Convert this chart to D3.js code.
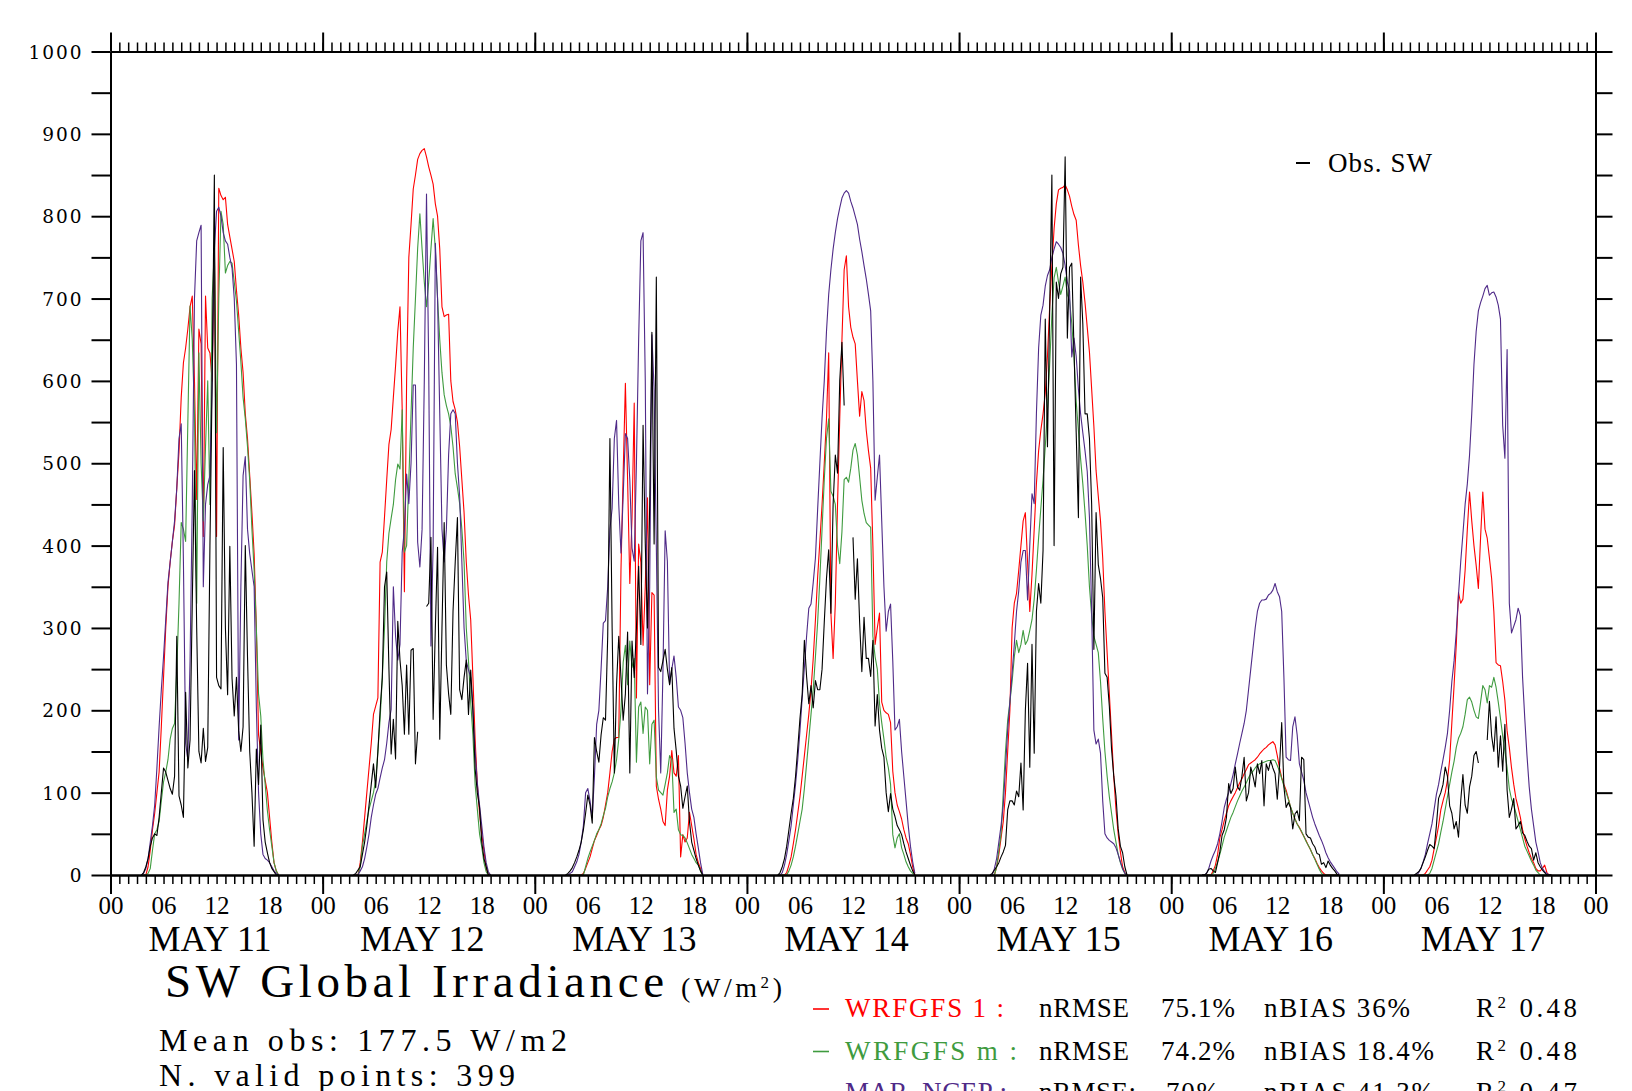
<!DOCTYPE html>
<html><head><meta charset="utf-8">
<script src="https://cdn.jsdelivr.net/npm/d3@7"></script>
<style>
html,body{margin:0;padding:0;background:#fff;overflow:hidden;}
svg{display:block;background:#fff;}
</style></head><body>
<svg id="chart" width="1632" height="1091"></svg>
<script>
// ---------------- DATA ----------------
const dayLabels = ["MAY 11","MAY 12","MAY 13","MAY 14","MAY 15","MAY 16","MAY 17"];
const hourTickLabels = ["00","06","12","18"];
const yTickValues = d3.range(0, 1001, 50);
const startHour = 3.5;   // first sample of each day (hours)
const stepHours = 0.25;  // sampling step (hours)

// Observed SW global irradiance (W/m2), one array per day, 03:30 .. 19:00 every 15 min
const obsSW = [
 [0,3, 10,20,35,45, 50,48,70,100, 130,125,115,105, 98,120,290,96, 85,70,222,130, 164,330,491,300, 150,136,178,138, 155,400,600,850, 240,230,226,519, 300,219,399,239, 193,240,175,150, 180,400,265,150, 100,35,153,110, 182,67,40,27, 15,8,4,0, 0],
 [0,2, 6,10,25,40, 60,85,110,135, 106,150,200,240, 350,368,250,147, 189,141,308,261, 230,171,255,171, 273,275,135,174, null,null,null,326, 330,410,189,300, 398,165,300,428, 255,220,195,320, 380,434,225,213, 240,261,195,249, 200,129,100,82, 40,20,10,0, 0],
 [0,2, 5,9,15,22, 30,40,55,75, 97,85,63,167, 150,137,170,191, 188,290,530,300, 124,231,290,240, 188,220,295,124, 284,240,300,375, 280,546,402,300, 450,659,402,726, 252,247,260,274, 250,231,252,178, 151,120,108,81, 95,108,65,40, 30,20,12,5, 0],
 [0,3, 10,20,35,55, 75,93,120,154, 190,219,285,241, 208,230,203,236, 225,225,250,307, 360,395,318,450, 510,488,600,647, 570,null,null,null, 410,335,384,307, 247,313,263,263, 241,285,181,219, 176,154,143,100, 77,99,80,71, 60,55,49,38, 28,20,12,5, 0],
 [0,2, 6,10,15,22, 28,36,79,90, 90,85,102,95, 136,79,200,257, 131,280,148,320, 354,330,394,675, 520,686,850,400, 720,700,730,738, 872,652,738,743, 640,537,434,726, 669,560,560,530, 450,274,440,377, 360,337,245,240, 205,153,120,96, 56,35,27,10, 0],
 [0,0, 2,7,8,5, 3,15,28,48, 55,70,111,99, 105,131,107,103, 120,143,90,100, 131,120,107,135, 123,139,84,135, 127,139,130,123, 92,131,185,107, 82,88,82,56, 74,78,66,143, 140,50,46,45, 38,34,26,25, 13,15,9,17, 12,8,5,1, 0],
 [0,2, 4,8,15,22, 30,37,35,32, 60,93,100,110, 131,120,84,75, 56,65,46,90, 122,85,75,107, 120,145,150,136, null,null,null,164, 211,169,150,192, 131,169,126,183, 103,70,80,93, 56,60,65,51, 48,41,35,32, 18,27,15,10, 6,3,0,0, 0]
];

// WRFGFS 1
const wrfgfs1 = [
 [0,0, 0,10,30,55, 75,100,125,180, 240,300,350,380, 405,425,470,514, 580,622,640,663, 690,703,600,456, 663,645,411,703, 640,634,600,766, 411,834,825,820, 823,790,775,760, 745,710,680,640, 610,560,530,485, 440,390,300,170, 150,130,115,100, 70,40,15,5, 0],
 [0,0, 0,15,40,70, 100,130,160,195, 205,215,380,392, 435,480,523,541, 580,618,660,690, 565,344,600,750, 790,833,850,869, 876,880,882,872, 860,850,839,815, 800,760,690,678, 680,681,600,575, 565,550,520,480, 440,380,340,310, 240,165,110,75, 50,30,8,0, 0],
 [0,0, 0,0,0,0, 0,0,2,8, 15,22,32,42, 48,55,60,70, 85,100,124,150, 165,167,167,370, 488,597,480,354, 434,573,215,402, 380,279,350,458, 231,343,340,108, 92,80,65,60, 103,120,151,124, 120,145,22,49, 40,45,76,60, 44,25,15,8, 0],
 [0,0, 0,0,3,12, 22,38,55,75, 95,120,145,170, 195,225,263,310, 362,405,450,500, 554,634,318,263, 330,450,554,650, 735,752,690,665, 653,645,600,557, 587,576,540,515, 494,400,280,300, 318,210,200,197, 195,185,126,100, 85,77,68,55, 45,38,25,10, 0],
 [0,0, 0,10,25,45, 65,100,150,200, 300,330,342,370, 400,430,440,380, 320,365,420,475, 515,540,560,585, 630,690,740,785, 815,832,834,835, 838,832,824,812, 802,795,765,740, 720,695,665,635, 590,545,491,460, 430,385,320,270, 220,170,120,80, 50,28,10,3, 0],
 [0,0, 0,0,0,5, 12,25,45,55, 66,75,84,90, 95,100,106,112, 117,123,128,134, 136,138,140,143, 147,150,153,155, 158,160,162,158, 145,130,118,110, 103,93,82,75, 68,62,58,52, 47,42,36,31, 25,20,14,9, 5,2,0,0, 0,0,0,0, 0],
 [0,0, 0,0,0,2, 6,10,18,32, 45,60,79,90, 100,115,140,185, 230,280,343,330, 335,370,420,465, 430,400,376,348, 410,465,420,409, 385,360,320,258, 255,254,235,212, 175,155,130,110, 93,82,70,55, 44,35,27,20, 15,8,5,5, 8,12,3,0, 0]
];

// WRFGFS m
const wrfgfsM = [
 [0,0, 0,2,8,30, 50,55,65,90, 113,125,140,165, 178,184,250,330, 428,420,405,550, 691,650,560,330, 634,500,430,520, 600,450,700,760, 537,700,806,790, 731,740,745,743, 720,697,660,623, 580,554,520,479, 420,370,300,220, 193,140,110,78, 55,35,15,5, 0],
 [0,0, 0,10,35,50, 65,80,90,100, 115,150,189,240, 300,380,415,433, 450,480,499,493, 565,392,400,480, 560,640,700,761, 803,760,720,690, 720,760,797,760, 700,650,610,583, 570,560,545,520, 487,470,451,420, 380,300,260,210, 170,110,80,50, 34,15,4,0, 0],
 [0,0, 0,0,0,0, 0,0,0,10, 20,28,35,42, 50,55,62,72, 81,95,105,113, 124,140,165,200, 258,279,231,284, 252,263,137,204, 210,172,204,200, 135,183,188,119, 103,100,97,110, 124,145,140,76, 80,55,49,48, 45,39,32,25, 20,15,12,5, 0],
 [0,0, 0,0,0,5, 12,22,35,50, 65,80,105,135, 165,195,225,265, 307,360,420,480, 530,554,466,460, 450,400,378,417, 480,483,477,494, 516,524,510,483, 455,439,428,425, 422,290,265,250, 208,185,165,143, 130,110,49,33, 45,50,33,25, 16,10,5,2, 0],
 [0,0, 0,10,30,50, 100,150,188,210, 235,265,285,270, 280,297,280,285, 297,310,335,370, 410,445,480,520, 565,620,680,725, 738,720,705,715, 726,705,698,670, 630,575,540,505, 475,440,400,350, 315,290,280,270, 235,190,150,120, 95,75,55,40, 25,15,7,2, 0],
 [0,0, 0,0,0,2, 8,16,25,35, 46,54,62,70, 76,83,90,96, 102,107,112,118, 123,126,130,133, 135,136,137,138, 139,139,140,139, 133,126,117,108, 100,92,83,75, 68,62,57,53, 47,41,36,31, 25,19,13,7, 2,0,0,0, 0,0,0,0, 0],
 [0,0, 0,0,0,0, 0,2,8,18, 28,38,52,65, 80,95,110,125, 138,155,166,172, 180,195,213,216, 210,200,192,190, 210,230,225,209, 230,228,240,228, 210,190,169,150, 130,105,92,85, 75,65,55,45, 35,29,23,17, 12,6,3,0, 0,0,0,0, 0]
];

// MAR_NCEP
const marNcep = [
 [0,2, 8,20,40,60, 85,130,180,225, 265,310,355,380, 405,430,470,530, 548,380,160,140, 260,450,700,770, 780,789,350,450, 474,485,600,760, 806,811,800,780, 770,766,750,737, 700,620,164,350, 485,508,420,390, 370,350,204,100, 50,25,20,18, 15,10,5,2, 0],
 [0,0, 0,5,10,20, 34,50,70,85, 98,105,118,130, 140,160,185,201, 350,290,261,280, 392,420,487,451, 500,595,595,404, 374,420,600,827, 618,278,400,767, 700,560,420,380, 420,510,560,565, 560,500,460,380, 300,260,249,240, 200,150,112,85, 60,34,15,4, 0],
 [0,0, 2,4,10,16, 25,40,60,100, 105,90,70,120, 183,200,250,306, 309,350,420,445, 530,552,450,391, 460,536,530,480, 397,381,500,650, 770,780,600,220, 350,656,589,400, 200,124,247,418, 381,231,250,266, 240,204,200,191, 160,124,100,80, 70,50,33,15, 1],
 [0,0, 3,12,25,42, 60,85,110,140, 175,215,252,290, 324,329,355,385, 444,500,555,600, 660,705,735,760, 780,797,810,822, 828,831,828,818, 810,800,790,772, 757,740,724,705, 685,600,455,483, 510,430,350,296, 320,329,260,176, 180,189,150,120, 90,60,35,16, 2],
 [0,0, 8,20,40,60, 85,130,176,210, 245,280,320,345, 380,394,394,334, 400,463,451,560, 640,680,692,715, 728,735,750,760, 769,766,762,755, 740,720,709,629, 652,630,590,560, 537,515,490,434, 320,176,159,165, 148,90,50,45, 42,40,38,33, 25,16,8,2, 0],
 [0,0, 2,8,17,24, 30,38,50,65, 82,92,100,111, 122,135,147,160, 172,184,200,225, 250,275,300,320, 330,334,334,335, 340,342,346,354, 344,338,320,240, 143,140,139,180, 192,170,135,125, 115,100,90,80, 70,62,55,48, 42,35,27,21, 16,12,8,4, 1],
 [0,0, 3,8,16,25, 38,50,62,80, 98,110,126,140, 155,172,200,235, 260,295,340,380, 414,450,475,510, 560,620,660,685, 695,703,712,716, 704,707,708,702, 692,675,546,506, 638,330,294,302, 310,324,315,240, 190,145,107,80, 60,40,28,15, 8,4,2,0, 0]
];

const seriesColors = {obs:"#000000", wrf1:"#ff0000", wrfm:"#3f9b3f", mar:"#4f2a88"};
const modelNames = ["WRFGFS 1 :", "WRFGFS m :", "MAR_NCEP :"];
const nrmseLabels = ["nRMSE", "nRMSE", "nRMSE:"];
const nrmseValues = ["75.1%", "74.2%", "70%"];
const nbiasLabels = ["nBIAS 36%", "nBIAS 18.4%", "nBIAS 41.3%"];
const r2Values = ["0.48", "0.48", "0.47"];
const meanObs = "177.5";
const validPoints = "399";

// ---------------- CHART ----------------
const plot = {left:110.5, right:1595.5, top:51.5, bottom:875};
const x = d3.scaleLinear().domain([0, 168]).range([plot.left, plot.right]);
const y = d3.scaleLinear().domain([0, 1000]).range([plot.bottom, plot.top]);
const svg = d3.select("#chart");
const SERIF = "Liberation Serif, Times New Roman, serif";

// data lines
const line = d3.line().defined(p => p.v !== null).x(p => x(p.t)).y(p => y(p.v));
const drawOrder = [
  {vals: wrfgfs1, color: seriesColors.wrf1},
  {vals: wrfgfsM, color: seriesColors.wrfm},
  {vals: marNcep, color: seriesColors.mar},
  {vals: obsSW,   color: seriesColors.obs}
];
const gLines = svg.append("g");
drawOrder.forEach(s => {
  s.vals.forEach((dayVals, d) => {
    const pts = dayVals.map((v, i) => ({t: d * 24 + startHour + i * stepHours, v: v}));
    gLines.append("path")
      .attr("d", line(pts))
      .attr("fill", "none")
      .attr("stroke", s.color)
      .attr("stroke-width", 1.1)
      .attr("stroke-linejoin", "round");
  });
});

function styleAxis(g, tickW) {
  g.select(".domain").attr("stroke", "#000").attr("stroke-width", 2);
  g.selectAll(".tick line").attr("stroke", "#000").attr("stroke-width", tickW);
}
const hoursAll = d3.range(0, 169, 1);
const daysAll = d3.range(0, 169, 24);

// bottom axis: hourly minor + daily major ticks
let g = svg.append("g").attr("transform", `translate(0,${plot.bottom})`)
  .call(d3.axisBottom(x).tickValues(hoursAll).tickSize(9).tickSizeOuter(0).tickFormat(""));
styleAxis(g, 1.5);
g = svg.append("g").attr("transform", `translate(0,${plot.bottom})`)
  .call(d3.axisBottom(x).tickValues(daysAll).tickSize(19).tickSizeOuter(0).tickFormat(""));
styleAxis(g, 2);
// hour labels
g = svg.append("g").attr("transform", `translate(0,${plot.bottom})`)
  .call(d3.axisBottom(x).tickValues(d3.range(0, 169, 6)).tickSize(0).tickSizeOuter(0)
    .tickFormat(h => hourTickLabels[(h % 24) / 6]));
g.select(".domain").remove();
g.selectAll("text").attr("y", 39).attr("dy", 0)
  .attr("font-family", SERIF).attr("font-size", 25).attr("fill", "#000");
// day labels
g = svg.append("g").attr("transform", `translate(-7,${plot.bottom})`)
  .call(d3.axisBottom(x).tickValues(d3.range(12, 168, 24)).tickSize(0).tickSizeOuter(0)
    .tickFormat((h, i) => dayLabels[i]));
g.select(".domain").remove();
g.selectAll("text").attr("y", 76).attr("dy", 0)
  .attr("font-family", SERIF).attr("font-size", 36).attr("fill", "#000");

// top axis
g = svg.append("g").attr("transform", `translate(0,${plot.top})`)
  .call(d3.axisTop(x).tickValues(hoursAll).tickSize(9).tickSizeOuter(0).tickFormat(""));
styleAxis(g, 1.5);
g = svg.append("g").attr("transform", `translate(0,${plot.top})`)
  .call(d3.axisTop(x).tickValues(daysAll).tickSize(19).tickSizeOuter(0).tickFormat(""));
styleAxis(g, 2);

// left axis
g = svg.append("g").attr("transform", `translate(${plot.left},0)`)
  .call(d3.axisLeft(y).tickValues(yTickValues).tickSize(19).tickSizeOuter(0).tickPadding(8)
    .tickFormat(v => v % 100 === 0 ? String(v) : ""));
styleAxis(g, 2);
g.selectAll("text").attr("font-family", "DejaVu Serif, serif").attr("font-size", 18.5)
  .attr("letter-spacing", 2).attr("fill", "#000").attr("dy", "0.36em");

// right axis
g = svg.append("g").attr("transform", `translate(${plot.right},0)`)
  .call(d3.axisRight(y).tickValues(yTickValues).tickSize(17).tickSizeOuter(0).tickFormat(""));
styleAxis(g, 2);

// ---------------- TEXT ----------------
function txt(str, xx, yy, size, color, len) {
  const t = svg.append("text").attr("x", xx).attr("y", yy)
    .attr("font-family", SERIF).attr("font-size", size).attr("fill", color || "#000")
    .text(str);
  if (len) t.attr("textLength", len).attr("lengthAdjust", "spacing");
  return t;
}
// text with a raised "2" (superscript) between two parts
function supTxt(pre, post, xx, yy, size, supSize, rise, len, color) {
  const t = svg.append("text").attr("x", xx).attr("y", yy)
    .attr("font-family", SERIF).attr("font-size", size).attr("fill", color || "#000");
  t.append("tspan").text(pre);
  t.append("tspan").attr("font-size", supSize).attr("dy", -rise).text("2");
  t.append("tspan").attr("dy", rise).text(post);
  if (len) t.attr("textLength", len).attr("lengthAdjust", "spacing");
  return t;
}

// Obs legend (top right)
svg.append("line").attr("x1", 1296).attr("x2", 1310).attr("y1", 163).attr("y2", 163)
  .attr("stroke", seriesColors.obs).attr("stroke-width", 2);
txt("Obs. SW", 1328, 171.5, 27, "#000", 104);

// Title block
txt("SW Global Irradiance", 165, 997, 47, "#000", 499);
supTxt("(W/m", ")", 681, 997, 28, 17, 9, 101);
txt("Mean obs: " + meanObs + " W/m2", 159, 1051, 32, "#000", 408);
txt("N. valid points: " + validPoints, 159, 1086, 32, "#000", 356);

// Model statistics legend
const rowBase = [1017, 1059.5, 1101];
const rowColors = [seriesColors.wrf1, seriesColors.wrfm, seriesColors.mar];
const nameLens = [159, 172, 162];
const nrmseLens = [90, 90, 97];
const valX = [1161, 1161, 1166];
const valLens = [74, 74, 53];
const biasLens = [146, 170, 170];
modelNames.forEach((nm, i) => {
  const yb = rowBase[i];
  svg.append("line").attr("x1", 813).attr("x2", 829).attr("y1", yb - 8).attr("y2", yb - 8)
    .attr("stroke", rowColors[i]).attr("stroke-width", 1.6);
  txt(nm, 845, yb, 27, rowColors[i], nameLens[i]);
  txt(nrmseLabels[i], 1039, yb, 27, "#000", nrmseLens[i]);
  txt(nrmseValues[i], valX[i], yb, 27, "#000", valLens[i]);
  txt(nbiasLabels[i], 1264, yb, 27, "#000", biasLens[i]);
  supTxt("R", " " + r2Values[i], 1476, yb, 27, 17, 9, 101);
});
</script>
</body></html>
